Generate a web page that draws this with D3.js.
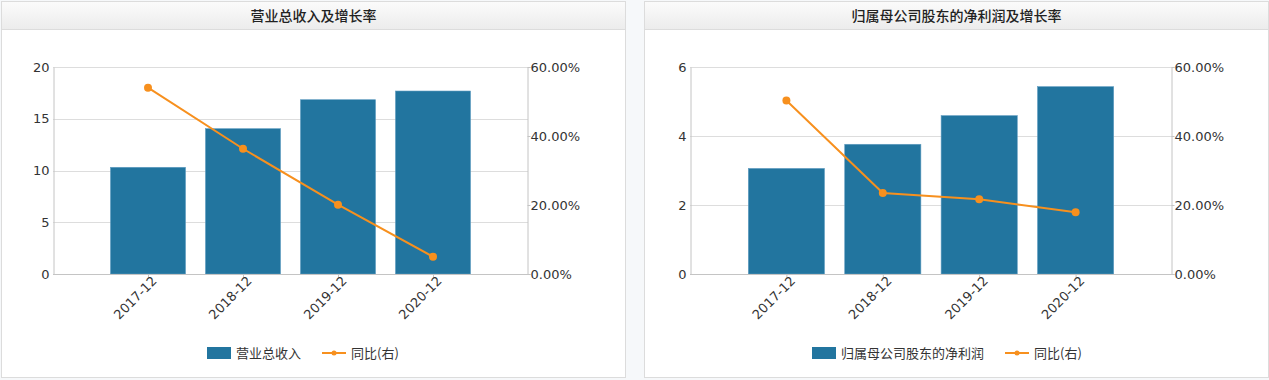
<!DOCTYPE html>
<html><head><meta charset="utf-8">
<script src="https://cdn.jsdelivr.net/npm/d3@7"></script>
<style>
html,body{margin:0;padding:0;background:#f6f8fa;}
svg{display:block;}
</style></head>
<body>
<svg id="c" width="1269" height="380"></svg>
<script>
const categories = ["2017-12", "2018-12", "2019-12", "2020-12"];
const revenue = [10.31, 14.04, 16.84, 17.68];
const revenueGrowth = [54.0, 36.3, 20.1, 5.0];
const profit = [3.06, 3.76, 4.59, 5.43];
const profitGrowth = [50.3, 23.5, 21.7, 17.9];
const leftTicksA = [0, 5, 10, 15, 20];
const leftTicksB = [0, 2, 4, 6];
const rightTicks = [0, 20, 40, 60];
const titles = ["营业总收入及增长率", "归属母公司股东的净利润及增长率"];
const barNames = ["营业总收入", "归属母公司股东的净利润"];
const lineName = "同比(右)";

const svg = d3.select("#c");
const defs = svg.append("defs");
const grad = defs.append("linearGradient").attr("id","hdr").attr("x1",0).attr("y1",0).attr("x2",0).attr("y2",1);
grad.append("stop").attr("offset","0%").attr("stop-color","#fbfbfb");
grad.append("stop").attr("offset","100%").attr("stop-color","#ececec");

const NUMFONT = "'DejaVu Sans', Verdana, sans-serif";
const CJKFONT = "'Noto Sans CJK SC', 'DejaVu Sans', sans-serif";
const BAR = "#22759f", LINE = "#f7901e";

function panel(cfg) {
  const g = svg.append("g");
  // panel frame
  g.append("rect").attr("x", cfg.px + 0.5).attr("y", 1.5).attr("width", cfg.pw - 1).attr("height", 376)
    .attr("fill", "#fff").attr("stroke", "#dcdcdc");
  g.append("rect").attr("x", cfg.px + 1).attr("y", 2).attr("width", cfg.pw - 2).attr("height", 27)
    .attr("fill", "url(#hdr)");
  g.append("line").attr("x1", cfg.px + 1).attr("x2", cfg.px + cfg.pw - 1).attr("y1", 29.5).attr("y2", 29.5)
    .attr("stroke", "#dcdcdc");
  g.append("text").attr("x", cfg.px + cfg.pw / 2).attr("y", 16).attr("dy", "0.35em")
    .attr("text-anchor", "middle").attr("font-family", CJKFONT).attr("font-size", 14)
    .attr("font-weight", 500).attr("fill", "#222").text(cfg.title);

  const x = d3.scaleLinear().domain([0, categories.length + 1]).range([cfg.x0, cfg.x1]);
  const y = d3.scaleLinear().domain([0, d3.max(cfg.leftTicks)]).range([cfg.y1, cfg.y0]);
  const y2 = d3.scaleLinear().domain([0, d3.max(rightTicks)]).range([cfg.y1, cfg.y0]);
  const slot = x(1) - x(0);
  const bw = slot * 0.79;

  // grid
  g.append("g").selectAll("line").data(cfg.leftTicks.filter(d => d > 0)).join("line")
    .attr("x1", cfg.x0).attr("x2", cfg.x1)
    .attr("y1", d => Math.round(y(d)) + 0.5).attr("y2", d => Math.round(y(d)) + 0.5)
    .attr("stroke", "#dddddd");

  // bars
  g.append("g").selectAll("rect").data(cfg.bars).join("rect")
    .attr("x", (d, i) => x(i + 1) - bw / 2).attr("width", bw)
    .attr("y", d => y(d)).attr("height", d => y(0) - y(d))
    .attr("fill", BAR).attr("stroke", "#5f9cc0").attr("stroke-width", 0.6);

  // axes
  const axL = d3.axisLeft(y).tickValues(cfg.leftTicks).tickSize(0).tickPadding(4).tickFormat(d => String(d));
  const gl = g.append("g").attr("transform", `translate(${cfg.x0 + 0.5},0)`).call(axL);
  const axR = d3.axisRight(y2).tickValues(rightTicks).tickSize(3).tickPadding(0).tickFormat(d => d.toFixed(2) + "%");
  const gr = g.append("g").attr("transform", `translate(${cfg.x1 - 0.5},0)`).call(axR);
  const axB = d3.axisBottom(x).tickValues(categories.map((c, i) => i + 1)).tickSize(4).tickPadding(3)
    .tickFormat(d => categories[d - 1]);
  const gb = g.append("g").attr("transform", `translate(0,${cfg.y1 + 0.5})`).call(axB);
  [gl, gr, gb].forEach(a => {
    a.select(".domain").attr("stroke", "#c4c4c4");
    a.selectAll(".tick line").attr("stroke", "#c4c4c4");
    a.selectAll("text").attr("font-family", NUMFONT).attr("font-size", 13).attr("fill", "#333");
  });
  gb.select(".domain").attr("d", `M${cfg.x0},0H${cfg.x1}`);
  gb.selectAll(".tick text").attr("text-anchor", "end")
    .attr("transform", "translate(6,4) rotate(-45)").attr("dy", "0.35em").attr("y", 0).attr("x", 0);

  // line
  const pts = cfg.growth.map((v, i) => [x(i + 1), y2(v)]);
  g.append("path").attr("d", d3.line()(pts)).attr("fill", "none").attr("stroke", LINE).attr("stroke-width", 2);
  g.append("g").selectAll("circle").data(pts).join("circle")
    .attr("cx", d => d[0]).attr("cy", d => d[1]).attr("r", 4).attr("fill", LINE);

  // legend
  const lg = g.append("g").attr("transform", `translate(0,353)`);
  lg.append("rect").attr("x", cfg.lx).attr("y", -6).attr("width", 24).attr("height", 12).attr("fill", BAR);
  const t1 = lg.append("text").attr("x", cfg.lx + 29).attr("y", 0).attr("dy", "0.35em")
    .attr("font-family", CJKFONT).attr("font-size", 13).attr("fill", "#333").text(cfg.barName);
  const w1 = t1.node().getComputedTextLength();
  const lx2 = cfg.lx + 29 + w1 + 21;
  lg.append("line").attr("x1", lx2).attr("x2", lx2 + 24).attr("y1", 0).attr("y2", 0).attr("stroke", LINE).attr("stroke-width", 2);
  lg.append("circle").attr("cx", lx2 + 12).attr("cy", 0).attr("r", 2.5).attr("fill", LINE);
  lg.append("text").attr("x", lx2 + 29).attr("y", 0).attr("dy", "0.35em")
    .attr("font-family", CJKFONT).attr("font-size", 13).attr("fill", "#333").text(lineName);
}

panel({px: 1, pw: 625, title: titles[0], x0: 53, x1: 528, y0: 67, y1: 274,
  leftTicks: leftTicksA, bars: revenue, growth: revenueGrowth, barName: barNames[0], lx: 207});
panel({px: 644, pw: 625, title: titles[1], x0: 690, x1: 1172, y0: 67, y1: 274,
  leftTicks: leftTicksB, bars: profit, growth: profitGrowth, barName: barNames[1], lx: 812});
</script>
</body></html>
